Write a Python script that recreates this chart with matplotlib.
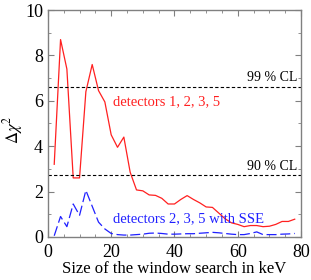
import matplotlib
matplotlib.use("Agg")
import matplotlib.pyplot as plt
from matplotlib.ticker import MultipleLocator

plt.rcParams['font.family'] = ['Liberation Serif', 'DejaVu Serif']
plt.rcParams['mathtext.fontset'] = 'stix'

window_kev = [2, 4, 6, 8, 10, 12, 14, 16, 18, 20, 22, 24, 26, 28, 30, 32, 34, 36, 38, 40,
              42, 44, 46, 48, 50, 52, 54, 56, 58, 60, 62, 64, 66, 68, 70, 72, 74, 76, 78]
red_chi2 = [3.2, 8.7, 7.4, 2.6, 2.6, 6.4, 7.6, 6.45, 5.95, 4.5, 3.95, 4.4, 2.85, 2.07, 2.03,
            1.85, 1.83, 1.7, 1.45, 1.45, 1.65, 1.82, 1.65, 1.5, 1.32, 1.3, 1.05, 0.8, 0.62,
            0.55, 0.45, 0.5, 0.5, 0.45, 0.47, 0.55, 0.68, 0.68, 0.78]
blue_chi2 = [0.05, 0.9, 0.45, 1.45, 0.95, 2.05, 1.35, 0.65, 0.35, 0.15, 0.1, 0.08, 0.08, 0.1,
             0.12, 0.16, 0.17, 0.15, 0.12, 0.12, 0.13, 0.14, 0.14, 0.16, 0.18, 0.2, 0.18,
             0.15, 0.12, 0.1, 0.1, 0.15, 0.22, 0.1, 0.1, 0.1, 0.12, 0.13, 0.15]
cl_levels = [6.63, 2.71]
cl_labels = ["99 % CL", "90 % CL"]

fig = plt.figure(figsize=(3.11, 2.80), dpi=100)
ax = fig.add_axes([0.154, 0.154, 0.814, 0.810])

ax.plot(window_kev, red_chi2, color='#ff2020', lw=0.9)
ax.plot(window_kev, blue_chi2, color='#2020ff', lw=0.9, dashes=(8, 3))
for lev, lab in zip(cl_levels, cl_labels):
    ax.axhline(lev, color='black', lw=0.8, ls=(0, (3, 2)))
    ax.text(78.8, lev + 0.1, lab, ha='right', va='bottom', fontsize=10)

ax.text(20.5, 5.95, "detectors 1, 2, 3, 5", color='#ff2020', fontsize=10.5, va='center')
ax.text(20.5, 0.8, "detectors 2, 3, 5 with SSE", color='#2020ff', fontsize=10.5, va='center')

ax.set_xlim(0, 80)
ax.set_ylim(0, 10)
ax.xaxis.set_major_locator(MultipleLocator(20))
ax.xaxis.set_minor_locator(MultipleLocator(5))
ax.yaxis.set_major_locator(MultipleLocator(2))
ax.yaxis.set_minor_locator(MultipleLocator(1))
ax.tick_params(which='both', direction='in', top=True, right=True, color='#808080',
               labelsize=13)
ax.tick_params(axis='x', pad=5)
ax.tick_params(which='major', length=4)
ax.tick_params(which='minor', length=2)
for s in ax.spines.values():
    s.set_color('#808080')
    s.set_linewidth(1.0)

ax.set_xlabel("Size of the window search in keV", fontsize=12, labelpad=0)
ax.set_ylabel(r"$\Delta\chi^2$", fontsize=12)
ax.yaxis.set_label_coords(-0.09, 0.47)

fig.savefig("out.png", dpi=100)
